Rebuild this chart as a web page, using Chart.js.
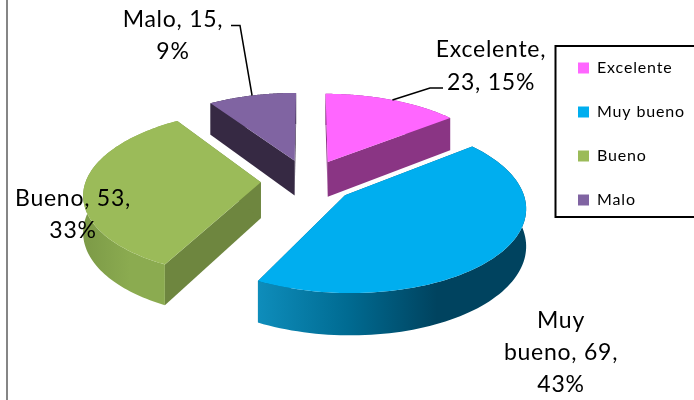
<!DOCTYPE html>
<html>
<head>
<meta charset="utf-8">
<style>
    html, body { margin: 0; background: #fff; overflow: hidden; }
    canvas { display: block; }
</style>
<script src="https://cdn.jsdelivr.net/npm/chart.js@4"></script>
</head>
<body>
<canvas id="chart" width="694" height="400"></canvas>
<script>
const categories = ['Excelente', 'Muy bueno', 'Bueno', 'Malo'];
const values = [23, 69, 53, 15];
const percents = [15, 43, 33, 9];

const topColors = ['#ff66ff', '#00aeef', '#9bbb59', '#8064a2'];
const wallColors = ['#8a3584', '#005f80', '#6e863f', '#362943'];
// colores de la pared curva, de izquierda a derecha
const rimColors = [
    ['#8a3584', '#8a3584'],
    ['#0e8dbb', '#006b92', '#00435f', '#00435f'],
    ['#7c9a47', '#8bab50', '#8bab50'],
    ['#362943', '#362943']
];

// Inclinación y perspectiva del disco, altura en px
const tilt = 0.465;
const persp = 0.128;
const depth = 36;

// Líneas de cada etiqueta: centro x, línea base y
const labelLayout = [
    { x: 491, y: [57, 90], lines: i => [categories[i] + ',', values[i] + ', ' + percents[i] + '%'] },
    { x: 561, y: [328, 360, 392], lines: i => ['Muy', 'bueno, ' + values[i] + ',', percents[i] + '%'] },
    { x: 73, y: [206, 238], lines: i => [categories[i] + ', ' + values[i] + ',', percents[i] + '%'] },
    { x: 173, y: [27, 59], lines: i => [categories[i] + ', ' + values[i] + ',', percents[i] + '%'] }
];
// Codo de las líneas guía
const leaders = { 0: [[443, 88], [430, 88]], 3: [[231, 25.5], [240, 25.5]] };

function project(el, angle, r, z) {
    const R = el.outerRadius;
    const mid = (el.startAngle + el.endAngle) / 2;
    const off = el.options.offset / 4;
    const u = (off * Math.cos(mid) + r * Math.cos(angle)) / R;
    const v = (off * Math.sin(mid) + r * Math.sin(angle)) / R;
    const den = 1 - persp * v;
    return [el.x + R * u / den, el.y + (R * tilt * v + z * depth) / den];
}

function fillPoly(ctx, pts, fill) {
    ctx.beginPath();
    pts.forEach((p, i) => i ? ctx.lineTo(p[0], p[1]) : ctx.moveTo(p[0], p[1]));
    ctx.closePath();
    ctx.fillStyle = fill;
    ctx.fill();
}

function arcPoints(el, z) {
    const pts = [];
    const steps = 90;
    for (let s = 0; s <= steps; s++) {
        const a = el.startAngle + (el.endAngle - el.startAngle) * s / steps;
        pts.push(project(el, a, el.outerRadius, z));
    }
    return pts;
}

function drawSlice(ctx, el, i) {
    const apexTop = project(el, 0, 0, 0);
    const apexBottom = project(el, 0, 0, 1);
    const arcTop = arcPoints(el, 0);
    const arcBottom = arcPoints(el, 1);

    // paredes radiales
    [0, arcTop.length - 1].forEach(k => {
        fillPoly(ctx, [apexTop, arcTop[k], arcBottom[k], apexBottom], wallColors[i]);
    });

    // pared curva con degradado
    const xs = arcTop.map(p => p[0]);
    const minX = Math.min(...xs);
    const maxX = Math.max(...xs);
    const grad = ctx.createLinearGradient(minX, 0, maxX, 0);
    rimColors[i].forEach((c, k) => grad.addColorStop(k / (rimColors[i].length - 1), c));
    fillPoly(ctx, arcTop.concat(arcBottom.slice().reverse()), grad);

    // cara superior
    fillPoly(ctx, [apexTop].concat(arcTop), topColors[i]);
}

const pie3d = {
    id: 'pie3d',
    afterLayout(chart) {
        // la leyenda se sale por el borde derecho
        chart.legend.left = 578 - chart.legend.options.labels.padding;
        chart.legend.top = 60 - chart.legend.options.labels.padding;
    },
    beforeDraw(chart) {
        chart.ctx.letterSpacing = '0.85px';
    },
    beforeDatasetsDraw(chart) {
        const ctx = chart.ctx;
        const arcs = chart.getDatasetMeta(0).data;

        // borde gris izquierdo
        ctx.fillStyle = '#868686';
        ctx.fillRect(6, 0, 2, 400);

        // marco de la leyenda
        ctx.strokeStyle = '#000';
        ctx.lineWidth = 2;
        ctx.strokeRect(555.5, 46, 150, 171);

        // de atrás hacia adelante
        const order = arcs.map((el, i) => i).sort((a, b) => {
            const mid = el => Math.sin((el.startAngle + el.endAngle) / 2);
            return mid(arcs[a]) - mid(arcs[b]);
        });
        order.forEach(i => drawSlice(ctx, arcs[i], i));

        // líneas guía
        ctx.lineWidth = 1.5;
        ctx.strokeStyle = '#000';
        Object.keys(leaders).forEach(i => {
            const el = arcs[i];
            const end = project(el, (el.startAngle + el.endAngle) / 2, el.outerRadius, 0);
            ctx.beginPath();
            leaders[i].forEach((p, k) => k ? ctx.lineTo(p[0], p[1]) : ctx.moveTo(p[0], p[1]));
            ctx.lineTo(end[0], end[1]);
            ctx.stroke();
        });

        // etiquetas
        ctx.font = '23px Lato';
        ctx.letterSpacing = '0.75px';
        ctx.fillStyle = '#000';
        ctx.textAlign = 'center';
        ctx.textBaseline = 'alphabetic';
        labelLayout.forEach((l, i) => {
            l.lines(i).forEach((t, k) => ctx.fillText(t, l.x, l.y[k]));
        });
        return false;
    }
};

new Chart(document.getElementById('chart'), {
    type: 'pie',
    data: {
        labels: categories,
        datasets: [{
            data: values,
            backgroundColor: topColors,
            borderWidth: 0,
            offset: 188,
            radius: 175
        }]
    },
    options: {
        responsive: false,
        animation: false,
        layout: { padding: { left: 59, bottom: 38 } },
        plugins: {
            tooltip: { enabled: false },
            legend: {
                position: 'right',
                align: 'start',
                labels: {
                    boxWidth: 11,
                    boxHeight: 11,
                    padding: 28,
                    color: '#000',
                    font: { family: 'Lato', size: 16 }
                }
            }
        }
    },
    plugins: [pie3d]
});
</script>
</body>
</html>
